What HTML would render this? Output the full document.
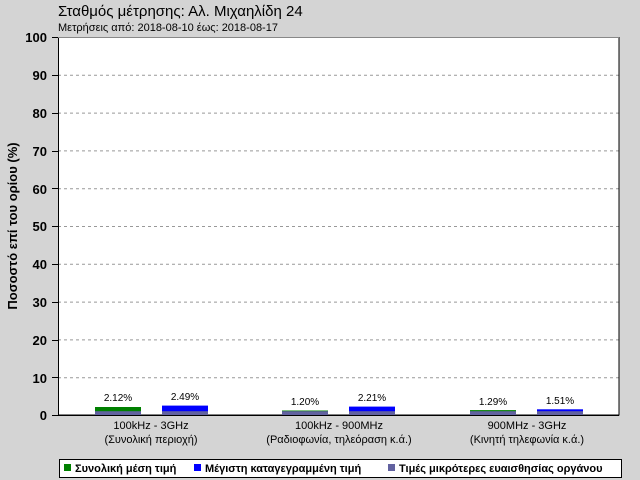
<!DOCTYPE html><html><head><style>
body{margin:0;width:640px;height:480px;background:#d6d6d6;position:relative;overflow:hidden;font-family:"Liberation Sans","DejaVu Sans",sans-serif}
div{position:absolute}
.t{font-size:11px;color:#000;white-space:nowrap}
</style></head><body>
<svg width="640" height="480" style="position:absolute;left:0;top:0" font-family="Liberation Sans, DejaVu Sans, sans-serif">
<defs><filter id="n"><feTurbulence type="fractalNoise" baseFrequency="0.9" numOctaves="2"/><feColorMatrix values="0 0 0 0 0.84 0 0 0 0 0.84 0 0 0 0 0.84 0 0 0 0.5 0"/></filter></defs>
<rect width="640" height="480" fill="#d4d4d4"/>
<text x="58" y="16" font-size="15">Σταθμός μέτρησης: Αλ. Μιχαηλίδη 24</text>
<text x="58" y="31" font-size="11">Μετρήσεις από: 2018-08-10 έως: 2018-08-17</text>
<rect x="58" y="37" width="561" height="378" fill="#fff"/>
<g stroke="#999" stroke-dasharray="3,3" stroke-width="1">
<line x1="58" x2="619" y1="75.3" y2="75.3"/><line x1="58" x2="619" y1="113.1" y2="113.1"/><line x1="58" x2="619" y1="150.9" y2="150.9"/><line x1="58" x2="619" y1="188.7" y2="188.7"/><line x1="58" x2="619" y1="226.5" y2="226.5"/><line x1="58" x2="619" y1="264.3" y2="264.3"/><line x1="58" x2="619" y1="302.1" y2="302.1"/><line x1="58" x2="619" y1="339.9" y2="339.9"/><line x1="58" x2="619" y1="377.7" y2="377.7"/>
</g>
<rect x="58.5" y="37.5" width="560.5" height="377.5" fill="none" stroke="#000"/>
<line x1="58" x2="619" y1="37.5" y2="37.5" stroke="#888"/>
<g font-size="13" font-weight="bold" text-anchor="end">
<text x="47" y="42">100</text><text x="47" y="80">90</text><text x="47" y="118">80</text><text x="47" y="156">70</text><text x="47" y="194">60</text><text x="47" y="231">50</text><text x="47" y="269">40</text><text x="47" y="307">30</text><text x="47" y="345">20</text><text x="47" y="383">10</text><text x="47" y="420">0</text>
</g>
<g stroke="#000"><line x1="52" x2="58" y1="37.5" y2="37.5"/><line x1="52" x2="58" y1="75.5" y2="75.5"/><line x1="52" x2="58" y1="113.5" y2="113.5"/><line x1="52" x2="58" y1="151.5" y2="151.5"/><line x1="52" x2="58" y1="188.5" y2="188.5"/><line x1="52" x2="58" y1="226.5" y2="226.5"/><line x1="52" x2="58" y1="264.5" y2="264.5"/><line x1="52" x2="58" y1="302.5" y2="302.5"/><line x1="52" x2="58" y1="340.5" y2="340.5"/><line x1="52" x2="58" y1="377.5" y2="377.5"/><line x1="52" x2="58" y1="415.5" y2="415.5"/></g>
<text transform="translate(17,226) rotate(-90)" font-size="13" font-weight="bold" text-anchor="middle">Ποσοστό επί του ορίου (%)</text>
<!-- bars -->
<rect x="95" y="407" width="46" height="8" fill="#008000"/><rect x="162" y="405.6" width="46" height="9.4" fill="#0000ff"/>
<rect x="282" y="410.5" width="46" height="4.5" fill="#008000"/><rect x="349" y="406.6" width="46" height="8.4" fill="#0000ff"/>
<rect x="470" y="410.1" width="46" height="4.9" fill="#008000"/><rect x="537" y="409.3" width="46" height="5.7" fill="#0000ff"/>
<g fill="#6262a0"><rect x="95" y="411.2" width="46" height="3.8"/><rect x="162" y="411.2" width="46" height="3.8"/><rect x="282" y="411.2" width="46" height="3.8"/><rect x="349" y="411.2" width="46" height="3.8"/><rect x="470" y="411.2" width="46" height="3.8"/><rect x="537" y="411.2" width="46" height="3.8"/></g>
<line x1="58" x2="619" y1="415.5" y2="415.5" stroke="#000"/>
<g font-size="10" text-anchor="middle">
<text x="118" y="401">2.12%</text><text x="185" y="400">2.49%</text>
<text x="305" y="405">1.20%</text><text x="372" y="401">2.21%</text>
<text x="493" y="405">1.29%</text><text x="560" y="404">1.51%</text>
</g>
<g font-size="11" text-anchor="middle">
<text x="151" y="429">100kHz - 3GHz</text><text x="151" y="443">(Συνολική περιοχή)</text>
<text x="339" y="429">100kHz - 900MHz</text><text x="339" y="443">(Ραδιοφωνία, τηλεόραση κ.ά.)</text>
<text x="527" y="429">900MHz - 3GHz</text><text x="527" y="443">(Κινητή τηλεφωνία κ.ά.)</text>
</g>
<rect x="59.5" y="459.5" width="562" height="18" fill="#fff" stroke="#000"/>
<g font-size="11" font-weight="bold">
<rect x="64" y="464" width="7" height="7" fill="#008000"/><text x="75" y="472">Συνολική μέση τιμή</text>
<rect x="194" y="464" width="7" height="7" fill="#0000ff"/><text x="205" y="472">Μέγιστη καταγεγραμμένη τιμή</text>
<rect x="388" y="464" width="7" height="7" fill="#6262a0"/><text x="399" y="472">Τιμές μικρότερες ευαισθησίας οργάνου</text>
</g>
</svg>
</body></html>
